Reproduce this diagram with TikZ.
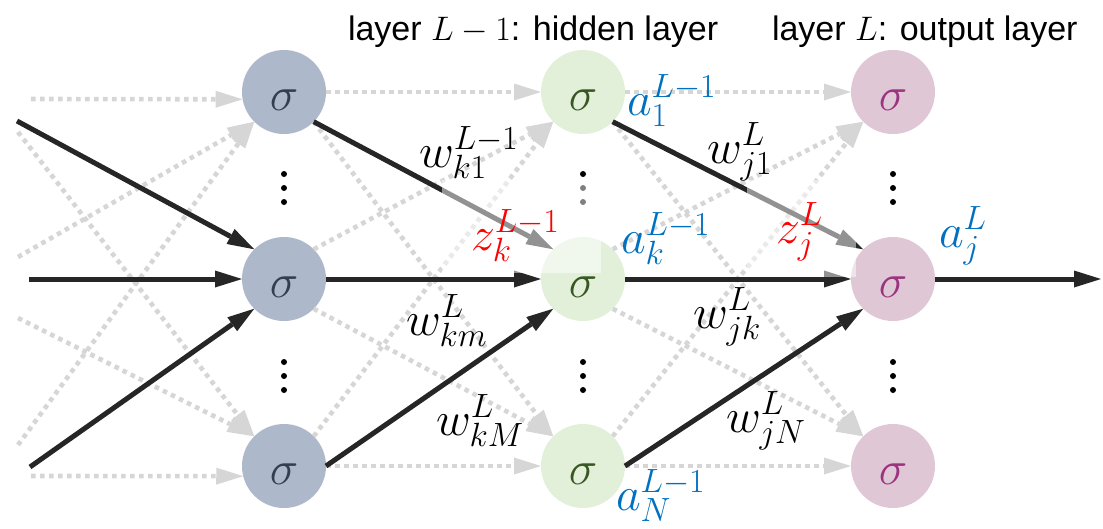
\RequirePackage{fix-cm}
\documentclass[tikz,border=0pt]{standalone}
\usepackage{fontspec}
\newfontfamily\hdrfont{Liberation Sans}
\usetikzlibrary{arrows.meta,calc}
\definecolor{cAfill}{HTML}{ADB9CA}
\definecolor{cAtxt}{HTML}{333F50}
\definecolor{cBfill}{HTML}{E2F0D9}
\definecolor{cBtxt}{HTML}{385723}
\definecolor{cCfill}{HTML}{DFC7D5}
\definecolor{cCtxt}{HTML}{9B3480}
\definecolor{dk}{HTML}{262626}
\definecolor{lg}{HTML}{D6D6D6}
\definecolor{lblue}{HTML}{0070C0}
\definecolor{lred}{HTML}{FF0000}
\tikzset{
  neuron/.style={circle, minimum size=84pt, inner sep=0pt, outer sep=0pt, draw=none,
    font=\fontsize{48}{50}\selectfont, text height=36pt, text depth=0pt},
  nA/.style={neuron, fill=cAfill, text=cAtxt},
  nB/.style={neuron, fill=cBfill, text=cBtxt},
  nC/.style={neuron, fill=cCfill, text=cCtxt},
  sol/.style={draw=dk, line width=5pt, -{Triangle[length=27pt,width=17pt,line width=0pt]}},
  dotl/.style={draw=lg, line width=4.6pt, dash pattern=on 4.6pt off 4.4pt,
    -{Triangle[length=27pt,width=17pt,line width=0pt,fill=lg]}},
  mlab/.style={inner sep=0pt, outer sep=0pt, anchor=base west, font=\fontsize{48}{52}\selectfont},
  hdr/.style={inner sep=0pt, outer sep=0pt, anchor=base west, font=\hdrfont\fontsize{34}{40}\selectfont},
  vdot/.style={fill=black},
  fadebox/.style={fill=white, fill opacity=0.5}
}
\begin{document}
\begin{tikzpicture}[x=1pt,y=-1pt]
\useasboundingbox (0,0) rectangle (1103,528);
% neurons
\node[nA] (c1t) at (284,92) {$\sigma$};
\node[nA] (c1m) at (284,279) {$\sigma$};
\node[nA] (c1b) at (284,466) {$\sigma$};
\node[nB] (c2t) at (583,92) {$\sigma$};
\node[nB] (c2m) at (583,279) {$\sigma$};
\node[nB] (c2b) at (583,466) {$\sigma$};
\node[nC] (c3t) at (893,92) {$\sigma$};
\node[nC] (c3m) at (893,279) {$\sigma$};
\node[nC] (c3b) at (893,466) {$\sigma$};
% free ends
\coordinate (in1) at (17,121);
\coordinate (in2) at (29,279);
\coordinate (in3) at (30,467);
\coordinate (d1) at (31,99);
\coordinate (d2) at (18,132);
\coordinate (d3) at (18,257);
\coordinate (d4) at (18,318);
\coordinate (d5) at (18,445);
\coordinate (d6) at (31,476);
\coordinate (out) at (1101,279);
% dotted connections
\draw[dotl] (d1) -- (c1t.190);
\draw[dotl] (d3) -- (c1t.south west);
\draw[dotl] (d5) -- (c1t.south west);
\draw[dotl] (d2) -- (c1b.north west);
\draw[dotl] (d4) -- (c1b.north west);
\draw[dotl] (d6) -- (c1b.194);
\draw[dotl] (c1t.east) -- (c2t.west);
\draw[dotl] (c1m.north east) -- (c2t.south west);
\draw[dotl] (c1b.north east) -- (c2t.south west);
\draw[dotl] (c1t.south east) -- (c2b.north west);
\draw[dotl] (c1m.south east) -- (c2b.north west);
\draw[dotl] (c1b.east) -- (c2b.west);
\draw[dotl] (c2t.east) -- (c3t.west);
\draw[dotl] (c2m.north east) -- (c3t.south west);
\draw[dotl] (c2b.north east) -- (c3t.south west);
\draw[dotl] (c2t.south east) -- (c3b.north west);
\draw[dotl] (c2m.south east) -- (c3b.north west);
\draw[dotl] (c2b.east) -- (c3b.west);
% solid connections
\draw[sol] (in1) -- (c1m.north west);
\draw[sol] (in2) -- (c1m.west);
\draw[sol] (in3) -- (c1m.south west);
\draw[sol] (c1t.south east) -- (c2m.north west);
\draw[sol] (c1m.east) -- (c2m.west);
\draw[sol] (c1b.east) -- (c2m.south west);
\draw[sol] (c2t.south east) -- (c3m.north west);
\draw[sol] (c2m.east) -- (c3m.west);
\draw[sol] (c2b.east) -- (c3m.south west);
\draw[sol] (c3m.east) -- (out);
% vertical ellipses
\foreach \x in {284,583,893}{
  \foreach \y in {174,188,202,362,376,390}{
    \fill[vdot] (\x,\y) circle (3);
  }
}
% translucent label backgrounds
\fill[fadebox] (442,180) rectangle (601,273);
\fill[fadebox] (747,180) rectangle (856,277);
% headers
\node[hdr] (h1) at (348,40) {layer $L-1$: hidden layer};
\node[hdr] (h2) at (772,40) {layer $L$: output layer};
% labels
\node[mlab] (lw1) at (419,167) {$w_{k1}^{L-1}$};
\node[mlab, text=lred] (lzk) at (471,250) {$z_{k}^{L-1}$};
\node[mlab, text=lblue] (la1) at (627,115) {$a_{1}^{L-1}$};
\node[mlab, text=lblue] (lak) at (621,253) {$a_{k}^{L-1}$};
\node[mlab] (lwj1) at (707,163) {$w_{j1}^{L}$};
\node[mlab, text=lred] (lzj) at (776,243) {$z_{j}^{L}$};
\node[mlab, text=lblue] (laj) at (939,247) {$a_{j}^{L}$};
\node[mlab] (lwkm) at (406,335) {$w_{km}^{L}$};
\node[mlab] (lwjk) at (693,328) {$w_{jk}^{L}$};
\node[mlab] (lwkM) at (436,435) {$w_{kM}^{L}$};
\node[mlab] (lwjN) at (726,432) {$w_{jN}^{L}$};
\node[mlab, text=lblue] (laN) at (616,510) {$a_{N}^{L-1}$};
\end{tikzpicture}
\end{document}
